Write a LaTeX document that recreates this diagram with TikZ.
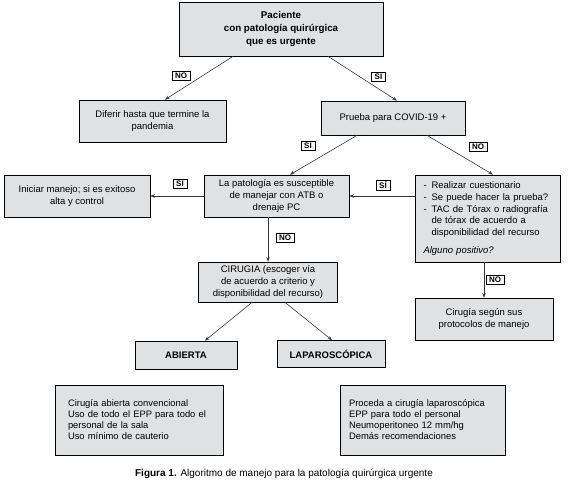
\documentclass[tikz,border=0pt]{standalone}
\usepackage{fontspec}
\setmainfont{Liberation Sans}
\usetikzlibrary{arrows.meta, positioning, calc}
\definecolor{boxgray}{RGB}{224,225,227}
\definecolor{linegray}{RGB}{55,55,55}

\begin{document}
\begin{tikzpicture}[
    x=1pt, y=-1pt,
    flowbox/.style={
      draw, fill=boxgray, line width=0.7pt,
      inner sep=2pt, align=center,
      font=\fontsize{9.5}{11.7}\selectfont
    },
    listbox/.style={
      flowbox, align=left, inner xsep=8.5pt
    },
    answer/.style={
      draw, fill=white, line width=0.5pt,
      inner xsep=3pt, inner ysep=1.5pt,
      font=\fontsize{8}{9}\selectfont\bfseries
    },
    arr/.style={-{Stealth[length=4.5pt, width=3.5pt]}, linegray, line width=0.6pt},
    link/.style={linegray, line width=0.6pt}
  ]
    \useasboundingbox (0,0) rectangle (568,487);

    % Start
    \node[flowbox, minimum width=204pt, minimum height=54pt,
      font=\fontsize{9.8}{13}\selectfont\bfseries] (patient) at (281,29)
      {Paciente\\con patología quirúrgica\\que es urgente};

    % First decision
    \node[flowbox, minimum width=147pt, minimum height=42pt] (defer) at (152.5,121)
      {Diferir hasta que termine la\\pandemia};
    \node[flowbox, minimum width=144pt, minimum height=34pt] (covidtest) at (393,118)
      {Prueba para COVID-19 +};

    % Second row
    \node[flowbox, minimum width=146pt, minimum height=42pt] (startcare) at (77,196)
      {Iniciar manejo; si es exitoso\\alta y control};
    \node[flowbox, minimum width=145pt, minimum height=42pt] (conserv) at (276.5,196)
      {La patología es susceptible\\de manejar con ATB o\\drenaje PC};
    \node[listbox, minimum width=145pt, minimum height=87pt, text width=128pt] (screen) at (487.5,218.5)
      {\makebox[8pt][l]{-}Realizar cuestionario\\
       \makebox[8pt][l]{-}Se puede hacer la prueba?\\
       \makebox[8pt][l]{-}TAC de Tórax o radiografía\\
       \hspace*{8pt}de tórax de acuerdo a\\
       \hspace*{8pt}disponibilidad del recurso\\[6pt]
       \textit{Alguno positivo?}};

    % Surgery
    \node[flowbox, minimum width=139pt, minimum height=40pt] (surgery) at (268,282)
      {CIRUGIA (escoger vía\\de acuerdo a criterio y\\disponibilidad del recurso)};
    \node[flowbox, minimum width=138pt, minimum height=42pt] (protocol) at (484,319)
      {Cirugía según sus\\protocolos de manejo};
    \node[flowbox, minimum width=102pt, minimum height=28pt, font=\fontsize{9.5}{11}\selectfont\bfseries] (open) at (186,355)
      {ABIERTA};
    \node[flowbox, minimum width=108pt, minimum height=27pt, font=\fontsize{9.5}{11}\selectfont\bfseries] (lap) at (331,354)
      {LAPAROSCÓPICA};

    % Recommendations
    \node[listbox, minimum width=168pt, minimum height=70pt, text width=142pt, inner xsep=13pt,
      font=\fontsize{9.4}{11}\selectfont] (opentxt) at (139,420)
      {Cirugía abierta convencional\\
       Uso de todo el EPP para todo el\\
       personal de la sala\\
       Uso mínimo de cauterio};
    \node[listbox, minimum width=165pt, minimum height=70pt, text width=147pt, inner xsep=9pt,
      font=\fontsize{9.4}{11}\selectfont] (laptxt) at (422.5,420)
      {Proceda a cirugía laparoscópica\\
       EPP para todo el personal\\
       Neumoperitoneo 12 mm/hg\\
       Demás recomendaciones};

    % Connectors
    \draw[arr] ([xshift=-48pt]patient.south) -- ([xshift=12.5pt]defer.north);
    \draw[arr] ([xshift=47pt]patient.south) -- ([xshift=4pt]covidtest.north);
    \draw[arr] ([xshift=-36pt]covidtest.south) -- ([xshift=13.5pt]conserv.north);
    \draw[arr] ([xshift=34pt]covidtest.south) -- ([xshift=5.5pt]screen.north);
    \draw[arr] (screen.west |- conserv.east) -- (conserv.east);
    \draw[arr] (conserv.west) -- (startcare.east);
    \draw[arr] (surgery.north |- conserv.south) -- (surgery.north);
    \draw[arr] (protocol.north |- screen.south) -- (protocol.north);
    \draw[arr] ([xshift=-16pt]surgery.south) -- ([xshift=19pt]open.north);
    \draw[arr] ([xshift=17pt]surgery.south) -- ([xshift=1pt]lap.north);

    % Answers
    \node[answer] (no1) at (181,76) {NO};
    \node[answer] (si1) at (378.5,77) {SI};
    \node[answer] (si2) at (308,146) {SI};
    \node[answer] (no2) at (478,147) {NO};
    \node[answer] (si3) at (180,184) {SI};
    \node[answer] (si4) at (383,185) {SÍ};
    \node[answer] (no3) at (285,238) {NO};
    \node[answer] (no4) at (495,280) {NO};

    % Caption
    \node[font=\fontsize{10}{12}\selectfont] (caption) at (284,474)
      {\textbf{Figura 1.} Algoritmo de manejo para la patología quirúrgica urgente};
  \end{tikzpicture}
\end{document}
